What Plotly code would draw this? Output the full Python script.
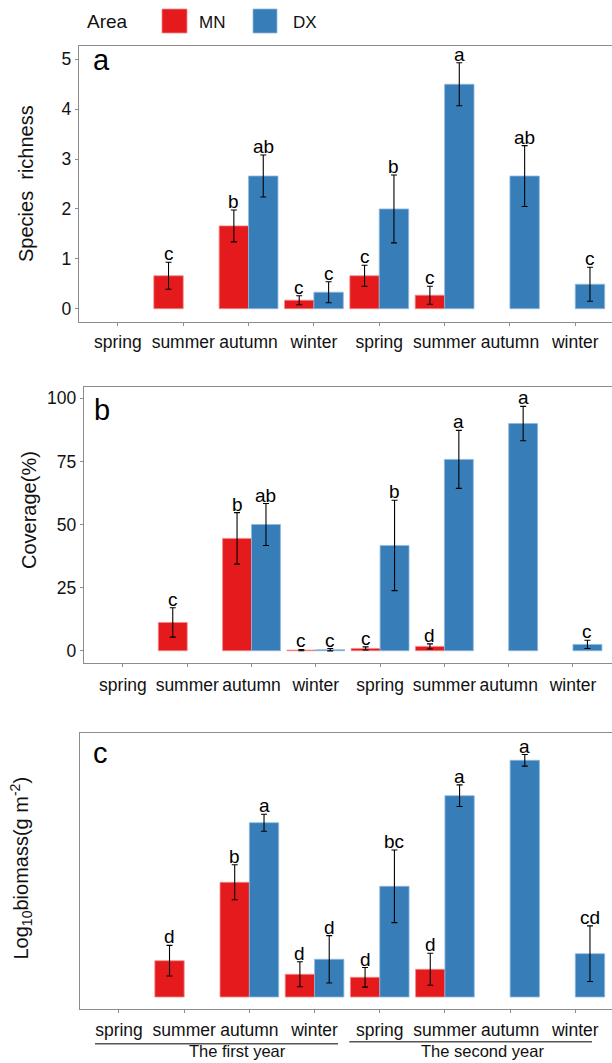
import plotly.graph_objects as go

W, H = 612, 1063
FONT = "Liberation Sans, Arial, sans-serif"

# ---------------- data ----------------
seasons = ["spring", "summer", "autumn", "winter", "spring", "summer", "autumn", "winter"]
years = ["The first year", "The second year"]
areas = ["MN", "DX"]

# (a) Species richness
rich_mn = [None, 0.66, 1.66, 0.17, 0.66, 0.27, None, None]
rich_mn_se = [None, 0.27, 0.32, 0.09, 0.21, 0.18, None, None]
rich_mn_let = [None, "c", "b", "c", "c", "c", None, None]
rich_dx = [None, None, 2.66, 0.33, 2.00, 4.50, 2.66, 0.49]
rich_dx_se = [None, None, 0.42, 0.21, 0.68, 0.43, 0.61, 0.34]
rich_dx_let = [None, None, "ab", "c", "b", "a", "ab", "c"]

# (b) Coverage (%)
cov_mn = [None, 11.2, 44.5, 0.25, 0.9, 1.7, None, None]
cov_mn_se = [None, 5.8, 10.2, 0.25, 0.6, 1.0, None, None]
cov_mn_let = [None, "c", "b", "c", "c", "d", None, None]
cov_dx = [None, None, 50.0, 0.4, 41.7, 75.8, 90.0, 2.5]
cov_dx_se = [None, None, 8.3, 0.45, 17.9, 11.5, 6.8, 1.65]
cov_dx_let = [None, None, "ab", "c", "b", "a", "a", "c"]

# (c) Log10 biomass (g m-2)
bio_mn = [None, 0.363, 1.147, 0.227, 0.197, 0.277, None, None]
bio_mn_se = [None, 0.153, 0.175, 0.125, 0.098, 0.160, None, None]
bio_mn_let = [None, "d", "b", "d", "d", "d", None, None]
bio_dx = [None, None, 1.743, 0.377, 1.107, 2.013, 2.367, 0.433]
bio_dx_se = [None, None, 0.085, 0.237, 0.363, 0.108, 0.058, 0.278]
bio_dx_let = [None, None, "a", "d", "bc", "a", "a", "cd"]

positions = list(range(1, len(seasons) + 1))

MN_COLOR = "#E41A1C"
DX_COLOR = "#377EB8"
MN_EDGE = "#f08a8b"
DX_EDGE = "#8fb8de"
AXIS_COLOR = "#8c8c8c"
BARGAP = 0.1


def px_x(v):
    return v / W


def px_y(v):
    return 1 - v / H


panels = [
    dict(tag="a", title="Species\u00a0 richness",
         mn=rich_mn, mn_se=rich_mn_se, mn_let=rich_mn_let,
         dx=rich_dx, dx_se=rich_dx_se, dx_let=rich_dx_let,
         left=78.8, top=45.7, bottom=321.7, xr=[0.402, 8.562], yr=[-0.261, 5.273],
         tickvals=[0, 1, 2, 3, 4, 5], title_xy=(26, 184), tag_xy=(92, 70.5),
         standoff=1),
    dict(tag="b", title="Coverage(%)",
         mn=cov_mn, mn_se=cov_mn_se, mn_let=cov_mn_let,
         dx=cov_dx, dx_se=cov_dx_se, dx_let=cov_dx_let,
         left=83.9, top=387.3, bottom=662.7, xr=[0.393, 8.607], yr=[-4.75, 104.36],
         tickvals=[0, 25, 50, 75, 100], title_xy=(29, 510), tag_xy=(93, 420),
         standoff=3),
    dict(tag="c", title="Log<sub>10</sub>biomass(g m<sup>-2</sup>)",
         mn=bio_mn, mn_se=bio_mn_se, mn_let=bio_mn_let,
         dx=bio_dx, dx_se=bio_dx_se, dx_let=bio_dx_let,
         left=80.4, top=733.3, bottom=1009.3, xr=[0.408, 8.563], yr=[-0.123, 2.637],
         tickvals=[], title_xy=(21, 868.5), tag_xy=(92, 763.5),
         standoff=2),
]

fig = go.Figure()
annotations = []
shapes = []
layout = {}

half = (1 - BARGAP) / 4  # centre offset of each dodged bar

for i, p in enumerate(panels, start=1):
    xa = "x" if i == 1 else f"x{i}"
    ya = "y" if i == 1 else f"y{i}"
    for name, vals, se, lets, col, edge, off in [
        (areas[0], p["mn"], p["mn_se"], p["mn_let"], MN_COLOR, MN_EDGE, -half),
        (areas[1], p["dx"], p["dx_se"], p["dx_let"], DX_COLOR, DX_EDGE, half),
    ]:
        fig.add_trace(go.Bar(
            x=positions, y=vals, name=name, xaxis=xa, yaxis=ya,
            offsetgroup=name, showlegend=False,
            marker=dict(color=col, line=dict(color=edge, width=0.8)),
            error_y=dict(type="data", array=se, visible=True,
                         color="black", thickness=1.1, width=3),
        ))
        for xp, v, s, l in zip(positions, vals, se, lets):
            if v is None or l is None:
                continue
            annotations.append(dict(
                x=xp + off, y=v + s, xref=xa, yref=ya, text=l, showarrow=False,
                xanchor="center", yanchor="bottom", yshift=-3, borderpad=0,
                font=dict(family=FONT, size=19, color="black")))

    key = "" if i == 1 else str(i)
    layout["xaxis" + key] = dict(
        domain=[px_x(p["left"]), 1.0], range=p["xr"], anchor=ya,
        tickmode="array", tickvals=positions, ticktext=seasons,
        ticks="outside", ticklen=3, tickcolor=AXIS_COLOR, tickwidth=1.1,
        ticklabelstandoff=p["standoff"],
        showline=True, linecolor=AXIS_COLOR, linewidth=1.3, mirror=True,
        showgrid=False, zeroline=False,
        tickfont=dict(family=FONT, size=17.5, color="#111111"))
    layout["yaxis" + key] = dict(
        domain=[px_y(p["bottom"]), px_y(p["top"])], range=p["yr"], anchor=xa,
        tickmode="array", tickvals=p["tickvals"],
        ticks="outside" if p["tickvals"] else "", ticklen=3,
        tickcolor=AXIS_COLOR, tickwidth=1.1,
        showticklabels=bool(p["tickvals"]),
        showline=True, linecolor=AXIS_COLOR, linewidth=1.3, mirror=False,
        showgrid=False, zeroline=False,
        tickfont=dict(family=FONT, size=17.5, color="#111111"))

    # y-axis title
    tx, ty = p["title_xy"]
    annotations.append(dict(
        x=px_x(tx), y=px_y(ty), xref="paper", yref="paper", text=p["title"],
        textangle=-90, showarrow=False, xanchor="center", yanchor="middle",
        font=dict(family=FONT, size=20, color="#111111")))
    # panel tag
    gx, gy = p["tag_xy"]
    annotations.append(dict(
        x=px_x(gx), y=px_y(gy - 0.35 * 29), xref="paper", yref="paper",
        text=p["tag"], showarrow=False, xanchor="left", yanchor="middle",
        borderpad=0, font=dict(family=FONT, size=29, color="black")))

# year brackets under panel c
year_lines = [(95, 338, 1043.8), (349.3, 592, 1041.8)]
year_text = [(237, 1051.2), (482, 1050.8)]
for (x0, x1, yy), (cx, cy), label in zip(year_lines, year_text, years):
    shapes.append(dict(type="line", xref="paper", yref="paper",
                       x0=px_x(x0), x1=px_x(x1), y0=px_y(yy), y1=px_y(yy),
                       line=dict(color="#555555", width=1.6)))
    annotations.append(dict(
        x=px_x(cx), y=px_y(cy), xref="paper", yref="paper", text=label,
        showarrow=False, xanchor="center", yanchor="middle", borderpad=0,
        font=dict(family=FONT, size=16.5, color="#111111")))

# legend (drawn manually)
annotations.append(dict(x=px_x(86), y=px_y(28.3 - 0.35 * 19), xref="paper", yref="paper",
                        text="Area", showarrow=False, xanchor="left", yanchor="middle",
                        borderpad=0, font=dict(family=FONT, size=19, color="#111111")))
for (kx0, kx1), col, edge, label, lx in [((162, 187), MN_COLOR, MN_EDGE, areas[0], 198),
                                          ((253, 277), DX_COLOR, DX_EDGE, areas[1], 292)]:
    shapes.append(dict(type="rect", xref="paper", yref="paper",
                       x0=px_x(kx0), x1=px_x(kx1), y0=px_y(33), y1=px_y(9),
                       fillcolor=col, line=dict(color=edge, width=0.8)))
    annotations.append(dict(x=px_x(lx), y=px_y(28.3 - 0.35 * 17), xref="paper", yref="paper",
                            text=label, showarrow=False, xanchor="left", yanchor="middle",
                            borderpad=0, font=dict(family=FONT, size=17, color="#111111")))

fig.update_layout(
    width=W, height=H, margin=dict(l=0, r=0, t=0, b=0),
    paper_bgcolor="white", plot_bgcolor="white",
    barmode="group", bargap=BARGAP, bargroupgap=0,
    annotations=annotations, shapes=shapes, showlegend=False,
    font=dict(family=FONT), **layout)

fig.write_html("out.html")
